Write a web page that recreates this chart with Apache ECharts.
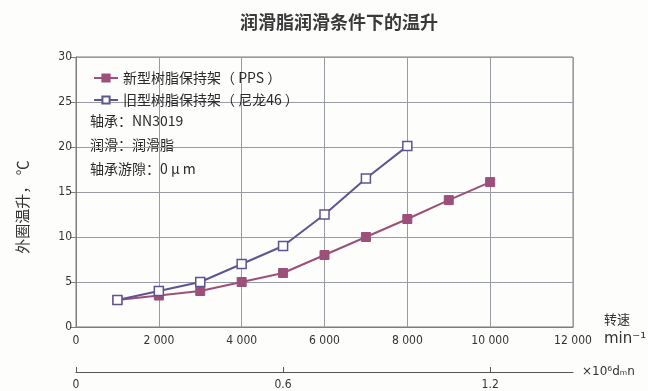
<!DOCTYPE html>
<html>
<head>
<meta charset="utf-8">
<script src="https://cdn.jsdelivr.net/npm/echarts@6/dist/echarts.min.js"></script>
<style>
  html, body { margin: 0; padding: 0; background: #fdfdfc; }
  #chart { width: 648px; height: 391px; }
</style>
</head>
<body>
<div id="chart"></div>
<script>
// Rotational speed (min^-1) at which outer ring temperature rise was measured
const speedsPPS = [1000, 2000, 3000, 4000, 5000, 6000, 7000, 8000, 9000, 10000];
const speedsNylon = [1000, 2000, 3000, 4000, 5000, 6000, 7000, 8000];
// Outer ring temperature rise (°C)
const risePPS = [3.0, 3.5, 4.0, 5.0, 6.0, 8.0, 10.0, 12.0, 14.1, 16.1];
const riseNylon = [3.0, 4.0, 5.0, 7.0, 9.0, 12.5, 16.5, 20.1];
// Series names and test conditions
const seriesNames = ['新型树脂保持架（ PPS ）', '旧型树脂保持架（ 尼龙46 ）'];
const conditions = ['轴承：NN3019', '润滑：润滑脂', '轴承游隙：0 μ m'];
// Secondary axis ticks (×10^6 dmn)
const dmnTicks = [0, 0.6, 1.2];

const cjk = '"Noto Sans CJK SC", "Noto Sans", sans-serif';
const narrow = '"Liberation Sans Narrow", "DejaVu Sans Condensed", sans-serif';
const colPPS = '#9c5079';
const colNylon = '#5d5592';

function pairs(xs, ys) { return xs.map((x, i) => [x, ys[i]]); }
function fmtThousands(v) {
  if (v === 0) return '0';
  return String(v).replace(/\B(?=(\d{3})+(?!\d))/g, ' ');
}

const chart = echarts.init(document.getElementById('chart'));
chart.setOption({
  backgroundColor: '#fdfdfc',
  animation: false,
  title: {
    text: '润滑脂润滑条件下的温升',
    left: 334, top: 8, textAlign: 'center',
    textStyle: { fontFamily: cjk, fontSize: 18, fontWeight: 'bold', color: '#3a3a3a' }
  },
  grid: {
    left: 76, right: 75, top: 57, bottom: 64,
    show: true, borderColor: '#7d7d7d', borderWidth: 1, backgroundColor: 'transparent'
  },
  legend: {
    left: 88, top: 66, orient: 'vertical', itemGap: 8,
    itemWidth: 24, itemHeight: 9,
    textStyle: { fontFamily: cjk, fontSize: 14, color: '#2a2a2a' },
    data: seriesNames
  },
  xAxis: [{
    type: 'value', min: 0, max: 12000, interval: 2000,
    axisLine: { show: true, lineStyle: { color: '#7d7d7d' } },
    axisTick: { show: false },
    splitLine: { show: true, lineStyle: { color: '#989ba4', width: 1 } },
    axisLabel: { fontFamily: narrow, fontSize: 12, color: '#333', margin: 8, formatter: fmtThousands }
  }, {
    type: 'value', min: 0, max: 1.44, interval: 0.6,
    position: 'bottom', offset: 45,
    axisLine: { show: true, onZero: false, lineStyle: { color: '#555' } },
    axisTick: { show: true, inside: true, length: 5, customValues: dmnTicks, lineStyle: { color: '#555' } },
    splitLine: { show: false },
    axisLabel: { fontFamily: narrow, fontSize: 12, color: '#333', margin: 7, customValues: dmnTicks,
      formatter: v => v === 0 ? '0' : v.toFixed(1) },
    name: '×10⁶dₘn', nameLocation: 'end', nameGap: 9,
    nameTextStyle: { fontFamily: '"DejaVu Sans", sans-serif', fontSize: 12, color: '#333', verticalAlign: 'middle' }
  }],
  yAxis: {
    type: 'value', min: 0, max: 30, interval: 5,
    axisLine: { show: true, lineStyle: { color: '#7d7d7d' } },
    axisTick: { show: true, length: 6, lineStyle: { color: '#7d7d7d' } },
    splitLine: { show: true, lineStyle: { color: '#989ba4', width: 1 } },
    axisLabel: { fontFamily: narrow, fontSize: 12, color: '#333', margin: 4 }
  },
  graphic: [
    { type: 'text', left: 90, top: 114, style: { text: conditions[0], font: '14px ' + cjk, fill: '#2a2a2a' } },
    { type: 'text', left: 90, top: 138, style: { text: conditions[1], font: '14px ' + cjk, fill: '#2a2a2a' } },
    { type: 'text', left: 90, top: 162, style: { text: conditions[2], font: '14px ' + cjk, fill: '#2a2a2a' } },
    { type: 'text', x: 22, y: 207, rotation: Math.PI / 2,
      style: { text: '外圈温升， ℃', font: '15px ' + cjk, fill: '#333', align: 'center', verticalAlign: 'middle' } },
    { type: 'text', left: 604, top: 313, style: { text: '转速', font: '13px ' + cjk, fill: '#333' } },
    { type: 'text', left: 604, top: 332, style: { text: 'min⁻¹', font: '15px "DejaVu Sans", sans-serif', fill: '#333' } }
  ],
  series: [{
    name: seriesNames[0], type: 'line', xAxisIndex: 0,
    data: pairs(speedsPPS, risePPS),
    symbol: 'rect', symbolSize: 9,
    lineStyle: { color: colPPS, width: 2 },
    itemStyle: { color: colPPS, borderColor: colPPS, borderWidth: 1 }
  }, {
    name: seriesNames[1], type: 'line', xAxisIndex: 0,
    data: pairs(speedsNylon, riseNylon),
    symbol: 'rect', symbolSize: 9,
    lineStyle: { color: colNylon, width: 2 },
    itemStyle: { color: '#ffffff', borderColor: colNylon, borderWidth: 1.5 }
  }]
});
</script>
</body>
</html>
